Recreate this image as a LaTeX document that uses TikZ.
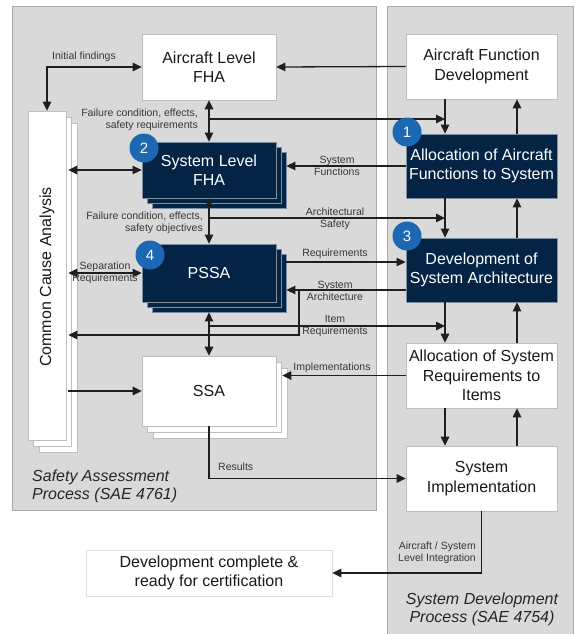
\documentclass[tikz,border=0pt]{standalone}
\usepackage{fontspec}
\setmainfont{Liberation Sans}
\usetikzlibrary{arrows.meta,shadows,calc}
\definecolor{navy}{RGB}{4,36,70}
\definecolor{navyedge}{RGB}{125,142,162}
\definecolor{badgeblue}{RGB}{28,104,178}
\definecolor{panelgray}{RGB}{217,217,217}
\definecolor{panelline}{RGB}{170,170,170}
\definecolor{boxedge}{RGB}{190,190,190}
\definecolor{lineblk}{RGB}{30,30,30}
\definecolor{labelgray}{RGB}{55,55,55}
\begin{document}
\begin{tikzpicture}[x=1pt,y=-1pt,
  font=\fontsize{16}{19.5}\selectfont,
  panel/.style={fill=panelgray, draw=panelline, line width=0.8pt},
  wbox/.style={draw=boxedge, fill=white, line width=0.7pt, inner sep=0pt, align=center, text=black!90},
  dbox/.style={draw=navyedge, fill=navy, line width=0.8pt, inner sep=0pt, align=center, text=white},
  lbl/.style={font=\fontsize{10.5}{12.5}\selectfont, text=labelgray, inner sep=0pt, align=center},
  badge/.style={circle, fill=badgeblue, text=white, minimum size=29pt, inner sep=0pt, font=\fontsize{15}{15}\selectfont},
  arr/.style={draw=lineblk, line width=1.3pt, -{Triangle[length=9pt,width=8.5pt]}},
  darr/.style={draw=lineblk, line width=1.3pt, {Triangle[length=9pt,width=8.5pt]}-{Triangle[length=9pt,width=8.5pt]}},
  stackd/.style={double copy shadow={shadow xshift=5pt, shadow yshift=-5pt}},
  stackw/.style={double copy shadow={shadow xshift=5.5pt, shadow yshift=-6pt}},
  ttl/.style={font=\fontsize{16}{18}\selectfont\itshape, text=black!85, inner sep=0pt}
]
\useasboundingbox (0,0) rectangle (574,634);
\fill[white] (0,0) rectangle (574,634);
\draw[panel] (12,6) rectangle (376,510);
\draw[panel] (387,6) rectangle (573,645);

% right column
\node[wbox, minimum width=151pt, minimum height=65pt] (afd) at (481.5,66.5) {Aircraft Function\\Development};
\node[dbox, minimum width=151pt, minimum height=64pt] (afs) at (481.5,166) {Allocation of Aircraft\\Functions to System};
\node[dbox, minimum width=151pt, minimum height=64pt] (dsa) at (481.5,270) {Development of\\System Architecture};
\node[wbox, minimum width=151pt, minimum height=65pt] (asr) at (481.5,375.5) {Allocation of System\\Requirements to\\Items};
\node[wbox, minimum width=151pt, minimum height=65pt] (si) at (481.5,478.5) {System\\Implementation};

% left column
\node[wbox, minimum width=134pt, minimum height=66pt] (alfha) at (209,67) {Aircraft Level\\FHA};
\node[dbox, stackd, minimum width=134pt, minimum height=56pt] (slfha) at (209,170) {System Level\\FHA};
\node[dbox, stackd, minimum width=134pt, minimum height=58pt] (pssa) at (209,273) {PSSA};
\node[wbox, stackw, minimum width=134pt, minimum height=70pt] (ssa) at (209,391) {SSA};
\node[wbox, stackw, minimum width=38pt, minimum height=329pt] (cca) at (47,275.5) {};
\node[rotate=90, inner sep=0pt, text=black!90] (ccalbl) at (47,277) {Common Cause Analysis};

\node[wbox, draw=black!12, minimum width=246pt, minimum height=46pt] (done) at (209,573) {Development complete \&\\ready for certification};

% titles
\node[ttl, anchor=west, align=left] (t1) at (32,486) {Safety Assessment\\Process (SAE 4761)};
\node[ttl, align=center] (t2) at (482,609.5) {System Development\\Process (SAE 4754)};

% helper coordinates
\coordinate (dL) at (445,0);
\coordinate (uR) at (517,0);
\coordinate (ccaR) at ([xshift=2pt]cca.east);
\coordinate (slfhaR) at ([xshift=10pt]slfha.east);
\coordinate (pssaR) at ([xshift=10pt]pssa.east);
\coordinate (ssaR) at ([xshift=6pt]ssa.east);
\coordinate (b1) at (209,119);
\coordinate (b2) at (209,218);
\coordinate (b3) at (209,326);
\coordinate (y262) at (0,262);
\coordinate (y290) at (0,290);
\coordinate (y335) at (0,335);
\coordinate (sa) at (299,290);

% connectors
\draw[darr] (cca.north) |- (alfha.west);
\draw[arr] (afd.west) -- (alfha.east);
\draw[darr] (alfha.south) -- (alfha.south |- slfha.north);
\draw[arr] (b1) -- (b1 -| dL);
\draw[arr] (afd.south -| dL) -- (afs.north -| dL);
\draw[arr] (afs.north -| uR) -- (afd.south -| uR);
\draw[arr] (afs.west) -- (afs.west -| slfhaR);
\draw[darr] (slfha.west -| ccaR) -- (slfha.west);
\draw[darr] (slfha.south) -- (slfha.south |- pssa.north);
\draw[arr] (b2) -- (b2 -| dL);
\draw[arr] (afs.south -| dL) -- (dsa.north -| dL);
\draw[arr] (dsa.north -| uR) -- (afs.south -| uR);
\draw[arr] (pssaR |- y262) -- (dsa.west |- y262);
\draw[arr] (dsa.west |- y290) -- (pssaR |- y290);
\draw[arr] (sa) |- (ccaR |- y335);
\draw[arr] (b3) -- (b3 -| dL);
\draw[darr] ([yshift=-10pt]pssa.south) -- (pssa.south |- ssa.north);
\draw[darr] (ccaR |- pssa.west) -- (pssa.west);
\draw[arr] (dsa.south -| dL) -- (asr.north -| dL);
\draw[arr] (asr.north -| uR) -- (dsa.south -| uR);
\draw[arr] (asr.west) -- (asr.west -| ssaR);
\draw[arr] (ccaR |- ssa.west) -- (ssa.west);
\draw[arr] (asr.south -| dL) -- (si.north -| dL);
\draw[arr] (si.north -| uR) -- (asr.south -| uR);
\draw[arr] (ssa.south) |- (si.west);
\draw[arr] (si.south) |- (done.east);

% labels
\node[lbl] (l1) at (84,57) {Initial findings};
\node[lbl, anchor=east, align=right] (l2) at (198,120) {Failure condition, effects,\\safety requirements};
\node[lbl] (l3) at (337,166) {System\\Functions};
\node[lbl, anchor=east, align=right] (l4) at (203,223) {Failure condition, effects,\\safety objectives};
\node[lbl] (l5) at (335,219) {Architectural\\Safety};
\node[lbl] (l6) at (335,254) {Requirements};
\node[lbl] (l7) at (335,291) {System\\Architecture};
\node[lbl] (l8) at (335,326) {Item\\Requirements};
\node[lbl] (l9) at (105,273) {Separation\\Requirements};
\node[lbl] (l10) at (332,368) {Implementations};
\node[lbl, anchor=west] (l11) at (218,467) {Results};
\node[lbl, anchor=east, align=right] (l12) at (476,553) {Aircraft / System\\Level Integration};

% badges
\node[badge] (n1) at (407,132) {1};
\node[badge] (n2) at (144,148) {2};
\node[badge] (n3) at (407,236) {3};
\node[badge] (n4) at (150,255) {4};
\end{tikzpicture}
\end{document}
